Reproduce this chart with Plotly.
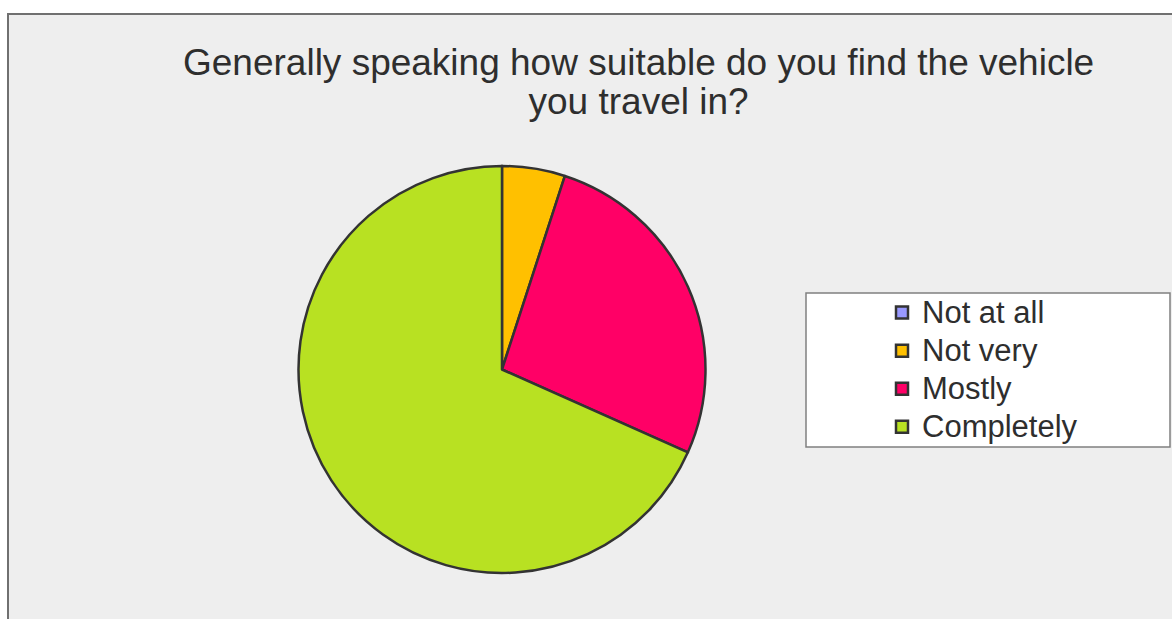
import plotly.graph_objects as go

# Survey responses
categories = ["Not at all", "Not very", "Mostly", "Completely"]
responses = [0, 3, 16, 41]
colors = ["#9999FF", "#FFC000", "#FF0066", "#B8E122"]
title_lines = ["Generally speaking how suitable do you find the vehicle", "you travel in?"]

W, H = 1172, 619
FONT = "Liberation Sans, Arial, sans-serif"

def px_x(v):
    return v / W

def px_y(v):
    return 1 - v / H

def sized(text, size):
    return f"<span style='font-size:{size}px'>{text}</span>"

cx, cy, r = 502, 369.5, 203.5

fig = go.Figure(
    go.Pie(
        labels=[sized(c, 31) for c in categories],
        values=responses,
        customdata=categories,
        marker=dict(colors=colors, line=dict(color="#333333", width=2.5)),
        sort=False,
        direction="clockwise",
        rotation=0,
        textinfo="none",
        hovertemplate="%{customdata}: %{value} (%{percent})<extra></extra>",
        domain=dict(x=[px_x(cx - r), px_x(cx + r)], y=[px_y(cy + r), px_y(cy - r)]),
    )
)

fig.update_layout(
    width=W,
    height=H,
    margin=dict(l=0, r=0, t=0, b=0),
    paper_bgcolor="white",
    showlegend=True,
    legend=dict(
        x=px_x(882),
        y=px_y(288.5),
        xanchor="left",
        yanchor="top",
        bgcolor="rgba(0,0,0,0)",
        font=dict(family=FONT, size=27, color="#2E2E2E"),
        tracegroupgap=0,
    ),
    shapes=[
        # chart area
        dict(type="rect", xref="paper", yref="paper", layer="below",
             x0=px_x(8), x1=px_x(1190), y0=px_y(640), y1=px_y(14),
             fillcolor="#EEEEEE", line=dict(color="#707070", width=2)),
        # legend frame
        dict(type="rect", xref="paper", yref="paper", layer="below",
             x0=px_x(806), x1=px_x(1170), y0=px_y(447), y1=px_y(293),
             fillcolor="white", line=dict(color="#808080", width=1.5)),
    ],
    annotations=[
        dict(text="<br>".join(sized(t, 37) for t in title_lines),
             x=px_x(638.5), y=px_y(40), xref="paper", yref="paper",
             xanchor="center", yanchor="top", showarrow=False, align="center",
             font=dict(family=FONT, size=30, color="#2E2E2E")),
    ],
)

fig.write_html("out.html")
